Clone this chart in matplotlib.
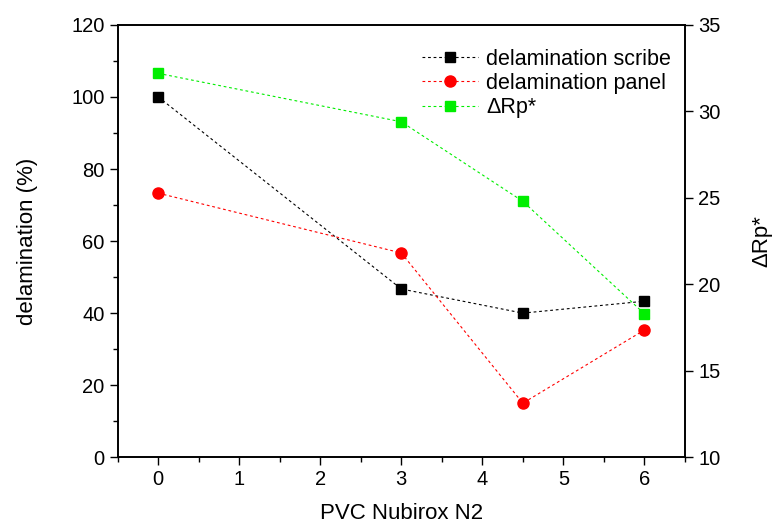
import matplotlib
matplotlib.use("Agg")
import matplotlib.pyplot as plt
from matplotlib.ticker import MultipleLocator

plt.rcParams['font.family'] = ['Liberation Sans', 'DejaVu Sans']

pvc = [0, 3, 4.5, 6]
scribe = [100, 46.7, 40, 43.3]
panel = [73.3, 56.7, 15, 35.3]
delta_rp = [32.2, 29.4, 24.8, 18.3]

fig = plt.figure(figsize=(7.8, 5.31), dpi=100)
ax = fig.add_axes([0.151, 0.139, 0.727, 0.814])
ax2 = ax.twinx()

dot = (0, (2.5, 2.5))
l1, = ax.plot(pvc, scribe, color='black', ls=dot, lw=0.8, marker='s', ms=7,
              label='delamination scribe')
l2, = ax.plot(pvc, panel, color='red', ls=dot, lw=0.8, marker='o', ms=8,
              label='delamination panel')
l3, = ax2.plot(pvc, delta_rp, color='#00ee00', ls=dot, lw=0.8, marker='s', ms=7,
               label='ΔRp*')

ax.set_xlim(-0.5, 6.5)
ax.set_ylim(0, 120)
ax2.set_ylim(10, 35)
ax.xaxis.set_major_locator(MultipleLocator(1))
ax.xaxis.set_minor_locator(MultipleLocator(0.5))
ax.yaxis.set_major_locator(MultipleLocator(20))
ax.yaxis.set_minor_locator(MultipleLocator(10))
ax2.yaxis.set_major_locator(MultipleLocator(5))

for a in (ax, ax2):
    a.tick_params(which='major', direction='out', length=6, width=1, labelsize=14.5)
    a.tick_params(which='minor', direction='out', length=3.5, width=1)
    for s in a.spines.values():
        s.set_linewidth(1.2)
ax.tick_params(top=False, right=False)

ax.set_xlabel('PVC Nubirox N2', fontsize=16, labelpad=10)
ax.set_ylabel('delamination (%)', fontsize=16, labelpad=24)
ax2.set_ylabel('ΔRp*', fontsize=16, labelpad=22)

ax2.legend(handles=[l1, l2, l3], loc='upper right', bbox_to_anchor=(1.01, 0.99),
           frameon=False, fontsize=15.5, handlelength=2.6, handletextpad=0.4,
           labelspacing=0.15)

fig.savefig('out.png', dpi=100)
